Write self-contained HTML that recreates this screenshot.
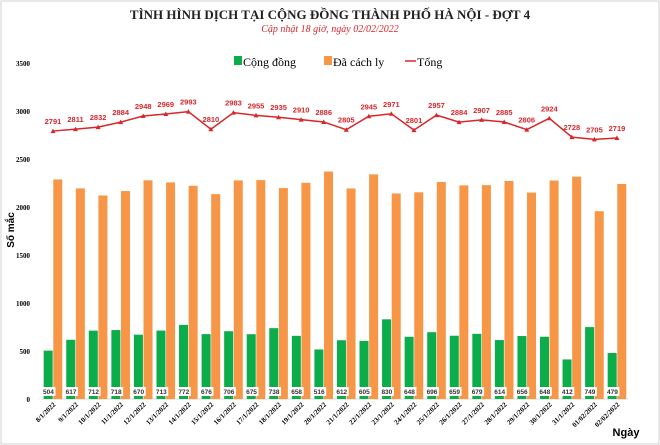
<!DOCTYPE html>
<html><head><meta charset="utf-8"><style>
body{margin:0;background:#fff}
svg{display:block;font-family:"Liberation Serif",serif}
</style></head><body>
<svg id="chart" width="660" height="445">
<rect x="1" y="1" width="658" height="443" fill="#fff" stroke="#d0d0d0"/>
<text x="330" y="19" text-anchor="middle" font-size="13" font-weight="bold" fill="#222">TÌNH HÌNH DỊCH TẠI CỘNG ĐỒNG THÀNH PHỐ HÀ NỘI - ĐỢT 4</text>
<text x="330" y="32" text-anchor="middle" font-size="10" font-style="italic" fill="#d9262a">Cập nhật 18 giờ, ngày  02/02/2022</text>
<g>
<rect x="234" y="56" width="8" height="9" fill="#0bac4a"/>
<text x="243" y="66" font-size="12">Cộng đồng</text>
<rect x="324" y="56" width="8" height="9" fill="#f79646"/>
<text x="333" y="66" font-size="12">Đã cách ly</text>
<line x1="405" y1="61" x2="416" y2="61" stroke="#d9262a" stroke-width="1.5"/>
<text x="417" y="66" font-size="12">Tổng</text>
</g>
<text transform="translate(14,230) rotate(-90)" text-anchor="middle" font-size="10" font-weight="bold" font-family="Liberation Sans,sans-serif">Số mắc</text>
<text x="626" y="436" text-anchor="middle" font-size="11" font-weight="bold" font-family="Liberation Sans,sans-serif">Ngày</text>
<g id="g"></g>
</svg>
<script>
const categories=["8/1/2022","9/1/2022","10/1/2022","11/1/2022","12/1/2022","13/1/2022","14/1/2022","15/1/2022","16/1/2022","17/1/2022","18/1/2022","19/1/2022","20/1/2022","21/1/2022","22/1/2022","23/1/2022","24/1/2022","25/1/2022","26/1/2022","27/1/2022","28/1/2022","29/1/2022","30/1/2022","31/1/2022","01/02/2022","02/02/2022"];
const community=[504,617,712,718,670,713,772,676,706,675,738,658,516,612,605,830,648,696,659,679,614,656,648,412,749,479];
const isolated=[2287,2194,2120,2166,2278,2256,2221,2134,2277,2280,2197,2252,2370,2193,2340,2141,2153,2261,2225,2228,2271,2150,2276,2316,1956,2240];
const total=[2791,2811,2832,2884,2948,2969,2993,2810,2983,2955,2935,2910,2886,2805,2945,2971,2801,2957,2884,2907,2885,2806,2924,2728,2705,2719];
const yTicks=[0,500,1000,1500,2000,2500,3000,3500];
const NS="http://www.w3.org/2000/svg";
const g=document.getElementById("g");
const x0=41.7,band=22.56,y0=399,pxPer=48/500;
const y=v=>y0-v*pxPer;
const cx=i=>x0+band*(i+0.5);
function mk(t,a,txt){const e=document.createElementNS(NS,t);for(const k in a)e.setAttribute(k,a[k]);if(txt!==undefined)e.textContent=txt;g.appendChild(e);return e;}
const ax=mk("line",{x1:x0,y1:y0,x2:x0+band*categories.length,y2:y0,stroke:"#d9d9d9"});


yTicks.forEach(t=>{const e=mk("text",{x:30,y:y(t)+3,"text-anchor":"end","font-size":"7","font-weight":"bold"},String(t));

});
categories.forEach((c,i)=>{
const b1=mk("rect",{x:cx(i)-9.3,y:y(community[i]),width:9,height:community[i]*pxPer,fill:"#0bac4a"});


const b2=mk("rect",{x:cx(i)+0.3,y:y(isolated[i]),width:9,height:isolated[i]*pxPer,fill:"#f79646"});


const lb=mk("rect",{x:cx(i)-11.5,y:387,width:14,height:9,fill:"#fff"});


const lt=mk("text",{x:cx(i)-4.5,y:394,"text-anchor":"middle","font-size":"6.5","font-weight":"bold","font-family":"Liberation Sans,sans-serif",fill:"#333"},String(community[i]));


const dl=mk("text",{transform:`translate(${cx(i)+3},${y0+6}) rotate(-45)`,"text-anchor":"end","font-size":"7","font-weight":"bold"},c);


});
const pl=mk("polyline",{points:total.map((v,i)=>cx(i)+","+y(v)).join(" "),fill:"none",stroke:"#d9262a","stroke-width":"1.5"});


total.forEach((v,i)=>{
const m=mk("path",{d:`M${cx(i)-2.5},${y(v)+2} L${cx(i)},${y(v)-2.5} L${cx(i)+2.5},${y(v)+2} Z`,fill:"#d9262a"});


const t=mk("text",{x:cx(i),y:y(v)-7,"text-anchor":"middle","font-size":"7.5","font-weight":"bold","font-family":"Liberation Sans,sans-serif",fill:"#d9262a"},String(v));


});
</script>
</body></html>
